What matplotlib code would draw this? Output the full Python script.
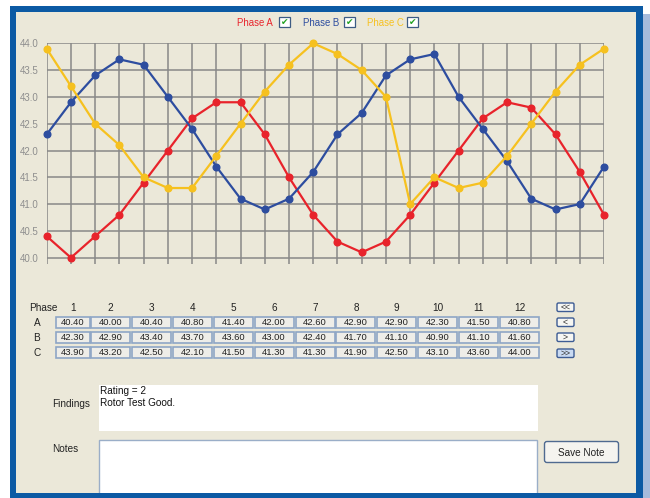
import matplotlib
matplotlib.use('Agg')
import matplotlib.pyplot as plt
from matplotlib.patches import Rectangle, FancyBboxPatch

plt.rcParams['font.family'] = ['Liberation Sans', 'DejaVu Sans']

# ---------------- data ----------------
points = list(range(1, 25))
phase_a = [40.4, 40.0, 40.4, 40.8, 41.4, 42.0, 42.6, 42.9, 42.9, 42.3, 41.5, 40.8,
           40.3, 40.1, 40.3, 40.8, 41.4, 42.0, 42.6, 42.9, 42.8, 42.3, 41.6, 40.8]
phase_b = [42.3, 42.9, 43.4, 43.7, 43.6, 43.0, 42.4, 41.7, 41.1, 40.9, 41.1, 41.6,
           42.3, 42.7, 43.4, 43.7, 43.8, 43.0, 42.4, 41.8, 41.1, 40.9, 41.0, 41.7]
phase_c = [43.9, 43.2, 42.5, 42.1, 41.5, 41.3, 41.3, 41.9, 42.5, 43.1, 43.6, 44.0,
           43.8, 43.5, 43.0, 41.0, 41.5, 41.3, 41.4, 41.9, 42.5, 43.1, 43.6, 43.9]
series_names = ['Phase A', 'Phase B', 'Phase C']
row_labels = ['A', 'B', 'C']
table_columns = list(range(1, 13))
y_ticks = [40.0, 40.5, 41.0, 41.5, 42.0, 42.5, 43.0, 43.5, 44.0]
findings_lines = ['Rating = 2', 'Rotor Test Good.']
nav_buttons = ['<<', '<', '>', '>>']

colors = ['#e8232b', '#2d4d9f', '#f6c11f']
W, H = 650, 498
fig = plt.figure(figsize=(W / 100, H / 100), dpi=100)
fig.patch.set_facecolor('white')

# ---------------- UI overlay in pixel coords ----------------
ui = fig.add_axes([0, 0, 1, 1], zorder=0)
ui.set_xlim(0, W)
ui.set_ylim(H, 0)
ui.axis('off')

panel_bg = '#ebe8d9'
frame = '#0c5aa4'
ui.add_patch(Rectangle((643, 14), 7, 484, facecolor='#a6bbdc', edgecolor='none'))
ui.add_patch(Rectangle((10, 6), 633, 492, facecolor=frame, edgecolor='none'))
ui.add_patch(Rectangle((16, 12), 620, 481, facecolor=panel_bg, edgecolor='none'))

# legend with checkboxes
leg_x = [237, 303, 367]
box_x = [279, 344, 407]
for name, c, lx, bx in zip(series_names, colors, leg_x, box_x):
    ui.text(lx, 22.5, name, color=c, fontsize=6.9, ha='left', va='center')
    ui.add_patch(Rectangle((bx, 17), 11, 10, facecolor='white', edgecolor='#3d5c84', lw=0.9))
    ui.text(bx + 5.5, 22.3, '\u2714', color='#22a222', fontsize=6.5, ha='center', va='center',
            family='DejaVu Sans')

# ---------------- chart ----------------
x0, x1 = 46.7, 604.0
ytop, ybot = 43.3, 264.0
ax = fig.add_axes([x0 / W, 1 - ybot / H, (x1 - x0) / W, (ybot - ytop) / H], zorder=2)
ax.set_facecolor('none')
ax.set_xlim(0, len(points) - 1)
ymin = 40.0 - (264.0 - 257.7) / ((257.7 - 43.3) / 4.0)
ax.set_ylim(ymin, 44.0)
for s in ax.spines.values():
    s.set_visible(False)
ax.set_xticks(range(len(points)))
ax.set_xticklabels([])
ax.set_yticks(y_ticks)
ax.set_yticklabels([f'{v:.1f}' for v in y_ticks], color='#8e8e8e', fontsize=7)
ax.tick_params(axis='both', length=0, pad=5.5)
for i in range(len(points)):
    ax.axvline(i, color='#888888', lw=1.1, zorder=1)
for v in y_ticks:
    ax.axhline(v, color='#888888', lw=1.1, zorder=1)

xs = list(range(len(points)))
for vals, c in zip([phase_a, phase_b, phase_c], colors):
    ax.plot(xs, vals, color=c, lw=1.6, marker='o', ms=4.8, mec=c, mfc=c, zorder=3, clip_on=False)

# ---------------- table ----------------
ui.text(29, 308, 'Phase', fontsize=7.2, ha='left', va='center', color='#222222')
cell_left = [56] + [91 + 40.9 * (i - 1) for i in range(1, 12)]
cell_w = [34] + [39] * 11
row_top = [317, 332, 347]
row_h = 11
for j, col in enumerate(table_columns):
    cx = cell_left[j] + cell_w[j] / 2
    ui.text(cx, 308, str(col), fontsize=7.2, ha='center', va='center', color='#222222')
for r, (lab, vals) in enumerate(zip(row_labels, [phase_a, phase_b, phase_c])):
    yc = row_top[r] + row_h / 2
    ui.text(37, yc, lab, fontsize=7.2, ha='center', va='center', color='#222222')
    for j in range(len(table_columns)):
        ui.add_patch(Rectangle((cell_left[j], row_top[r]), cell_w[j], row_h,
                               facecolor='#eeede8', edgecolor='#8ea6c6', lw=1.2))
        ui.text(cell_left[j] + cell_w[j] / 2, yc, f'{vals[j]:.2f}', fontsize=6.8,
                ha='center', va='center', color='#222222')

# navigation buttons
btn_y = [303, 318, 333, 349]
for k, (lab, by) in enumerate(zip(nav_buttons, btn_y)):
    fc = '#c9daf2' if k == 3 else '#f6f6f2'
    ui.add_patch(FancyBboxPatch((557, by), 17, 8.5, boxstyle='round,pad=0,rounding_size=1.5',
                                facecolor=fc, edgecolor='#3d5c94', lw=1.0))
    ui.text(565.5, by + 4.4, lab, fontsize=6.3, ha='center', va='center', color='#333333')

# ---------------- findings / notes ----------------
ui.text(52, 404, 'Findings', fontsize=7.2, ha='left', va='center', color='#222222')
ui.add_patch(Rectangle((99, 385), 439, 46, facecolor='white', edgecolor='none'))
for i, line in enumerate(findings_lines):
    ui.text(100, 391 + 12 * i, line, fontsize=7.2, ha='left', va='center', color='#111111')

ui.text(52, 449, 'Notes', fontsize=7.2, ha='left', va='center', color='#222222')
ui.add_patch(Rectangle((99, 440), 438, 54, facecolor='white', edgecolor='#9aaec8', lw=1.0))
ui.add_patch(Rectangle((10, 493), 633, 5, facecolor=frame, edgecolor='none'))

ui.add_patch(FancyBboxPatch((544.5, 441.5), 74, 21, boxstyle='round,pad=0,rounding_size=2.5',
                            facecolor='#f5f4ef', edgecolor='#4f6a90', lw=1.0))
ui.text(581.5, 452.5, 'Save Note', fontsize=7.2, ha='center', va='center', color='#222222')

fig.savefig('out.png', dpi=100, facecolor='white')
